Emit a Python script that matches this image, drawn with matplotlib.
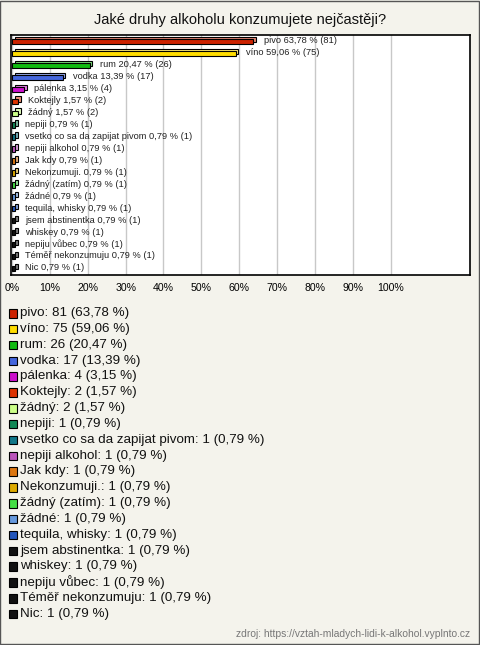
import matplotlib.pyplot as plt
from matplotlib.patches import Rectangle
from matplotlib.colors import to_rgb

plt.rcParams['font.family'] = ['Liberation Sans', 'DejaVu Sans']

labels = ['pivo', 'víno', 'rum', 'vodka', 'pálenka', 'Koktejly', 'žádný', 'nepiji',
          'vsetko co sa da zapijat pivom', 'nepiji alkohol', 'Jak kdy', 'Nekonzumuji.',
          'žádný (zatím)', 'žádné', 'tequila, whisky', 'jsem abstinentka', 'whiskey',
          'nepiju vůbec', 'Téměř nekonzumuju', 'Nic']
counts = [81, 75, 26, 17, 4, 2, 2, 1, 1, 1, 1, 1, 1, 1, 1, 1, 1, 1, 1, 1]
percents = [63.78, 59.06, 20.47, 13.39, 3.15, 1.57, 1.57, 0.79, 0.79, 0.79, 0.79,
            0.79, 0.79, 0.79, 0.79, 0.79, 0.79, 0.79, 0.79, 0.79]
colors = ['#cc2200', '#ffdd00', '#11bb11', '#4466dd', '#cc11cc', '#dd3300', '#ccff88',
          '#118855', '#117788', '#bb55bb', '#dd7711', '#ddaa00', '#44dd44', '#6699dd',
          '#2255bb', '#111111', '#111111', '#111111', '#111111', '#111111']
ticks = [0, 10, 20, 30, 40, 50, 60, 70, 80, 90, 100]

bg = '#f4f3ec'


def fmt(v):
    return ('%.2f' % v).replace('.', ',')


def lighter(c, f=0.45):
    r, g, b = to_rgb(c)
    return (r + (1 - r) * f, g + (1 - g) * f, b + (1 - b) * f)


fig = plt.figure(figsize=(4.8, 6.45), dpi=100, facecolor=bg)
fig.patches.append(Rectangle((0.001, 0.001), 0.997, 0.997, transform=fig.transFigure,
                             fill=False, edgecolor='#555555', lw=1))

fig.text(0.5, 1 - 20 / 645, 'Jaké druhy alkoholu konzumujete nejčastěji?', ha='center',
         va='center', fontsize=10.5, color='#111111')

ax = fig.add_axes([0.0229, 0.5736, 0.9563, 0.3721])
ax.set_facecolor('white')
ys = list(range(len(labels)))
h = 0.45
dx, dy = 0.7, 0.18
ax.barh([y - dy for y in ys], percents, left=dx, height=h,
        color=[lighter(c) for c in colors], edgecolor='black', lw=0.8, zorder=2)
ax.barh(ys, percents, height=h, color=colors, edgecolor='black', lw=0.8, zorder=3)
for y, lab, p, n in zip(ys, labels, percents, counts):
    ax.text(p + dx + 2.0, y - 0.05, '%s %s %% (%d)' % (lab, fmt(p), n), fontsize=6.7,
            va='center', ha='left', color='#222222', zorder=4)

ax.set_xlim(-0.3, 121)
ax.set_ylim(len(labels) - 0.45, -0.55)
ax.set_xticks(ticks)
ax.set_xticklabels(['%d%%' % t for t in ticks], fontsize=7.6)
ax.set_yticks([])
ax.tick_params(axis='x', length=0, pad=6)
ax.grid(axis='x', color='#c8c8c8', lw=1, zorder=1)
for s in ax.spines.values():
    s.set_color('black')
    s.set_linewidth(1.2)

# legend
y0 = 1 - 313 / 645
step = 15.84 / 645
for i, (lab, p, n, c) in enumerate(zip(labels, percents, counts, colors)):
    yy = y0 - i * step
    fig.patches.append(Rectangle((8.5 / 480, yy - 4.5 / 645), 8.5 / 480, 8.5 / 645,
                                 transform=fig.transFigure, facecolor=c,
                                 edgecolor='black', lw=0.8))
    fig.text(20 / 480, yy, '%s: %d (%s %%)' % (lab, n, fmt(p)), fontsize=9.6,
             va='center', ha='left', color='#111111')

fig.text(470 / 480, 1 - 634 / 645, 'zdroj: https://vztah-mladych-lidi-k-alkohol.vyplnto.cz',
         fontsize=7.4, ha='right', va='center', color='#777777')

fig.savefig('out.png', dpi=100, facecolor=bg)
